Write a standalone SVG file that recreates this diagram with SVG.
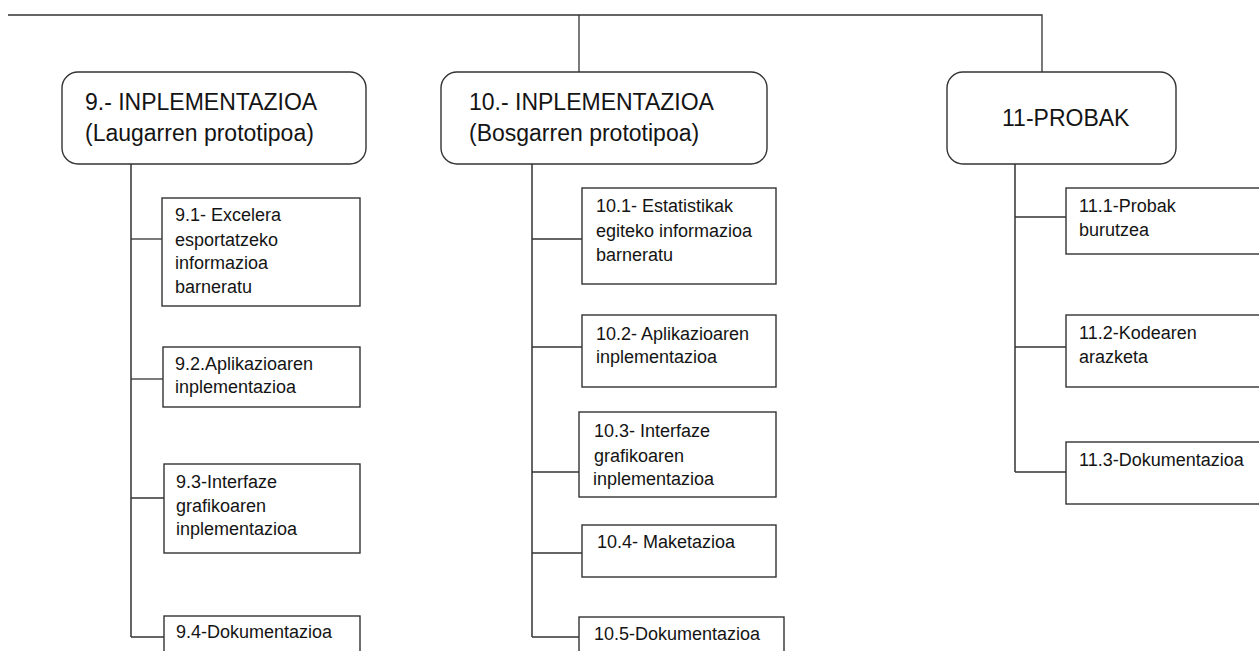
<svg xmlns="http://www.w3.org/2000/svg" width="1259" height="651" viewBox="0 0 1259 651">
  <style>
    .phase { fill: #fff; stroke: #333; stroke-width: 1.4; }
    .task { fill: #fff; stroke: #333; stroke-width: 1.4; }
    .h { font-family: "Liberation Sans", Arial, sans-serif; font-size: 23px; fill: #141414; }
    .t { font-family: "Liberation Sans", Arial, sans-serif; font-size: 18px; fill: #141414; }
    .wire { fill: none; stroke: #333; stroke-width: 1.3; }
    .trunk { fill: none; stroke: #555; stroke-width: 1.8; }
  </style>
  <rect width="1259" height="651" fill="#fff"/>

  <!-- connectors -->
  <g id="connectors">
    <polyline class="wire" points="8,15 1042,15 1042,72"/>
    <line class="wire" x1="579" y1="15" x2="579" y2="72"/>
    <!-- phase 9 -->
    <line class="trunk" x1="131" y1="164" x2="131" y2="637"/>
    <line class="wire" x1="131" y1="239" x2="162" y2="239"/>
    <line class="wire" x1="131" y1="379" x2="163" y2="379"/>
    <line class="wire" x1="131" y1="498" x2="164" y2="498"/>
    <line class="wire" x1="131" y1="637" x2="164" y2="637"/>
    <!-- phase 10 -->
    <line class="trunk" x1="532" y1="164" x2="532" y2="637"/>
    <line class="wire" x1="532" y1="239" x2="582" y2="239"/>
    <line class="wire" x1="532" y1="347" x2="582" y2="347"/>
    <line class="wire" x1="532" y1="472" x2="582" y2="472"/>
    <line class="wire" x1="532" y1="553" x2="582" y2="553"/>
    <line class="wire" x1="532" y1="637" x2="579" y2="637"/>
    <!-- phase 11 -->
    <line class="trunk" x1="1015" y1="164" x2="1015" y2="472"/>
    <line class="wire" x1="1015" y1="217" x2="1066" y2="217"/>
    <line class="wire" x1="1015" y1="347" x2="1066" y2="347"/>
    <line class="wire" x1="1015" y1="472" x2="1066" y2="472"/>
  </g>

  <!-- phase headers -->
  <g id="phase9">
    <rect class="phase" x="62" y="72" width="304" height="92" rx="16"/>
    <text class="h" x="85" y="110">9.- INPLEMENTAZIOA</text>
    <text class="h" x="85" y="141">(Laugarren prototipoa)</text>
  </g>
  <g id="phase10">
    <rect class="phase" x="441" y="72" width="326" height="92" rx="16"/>
    <text class="h" x="469" y="110">10.- INPLEMENTAZIOA</text>
    <text class="h" x="469" y="141">(Bosgarren prototipoa)</text>
  </g>
  <g id="phase11">
    <rect class="phase" x="947" y="72" width="229" height="92" rx="16"/>
    <text class="h" x="1002" y="126">11-PROBAK</text>
  </g>

  <!-- tasks of phase 9 -->
  <g id="task9-1">
    <rect class="task" x="162" y="198" width="198" height="108"/>
    <text class="t" x="175" y="221">9.1- Excelera</text>
    <text class="t" x="175" y="246">esportatzeko</text>
    <text class="t" x="175" y="269">informazioa</text>
    <text class="t" x="175" y="293">barneratu</text>
  </g>
  <g id="task9-2">
    <rect class="task" x="163" y="347" width="197" height="60"/>
    <text class="t" x="175" y="370">9.2.Aplikazioaren</text>
    <text class="t" x="175" y="393">inplementazioa</text>
  </g>
  <g id="task9-3">
    <rect class="task" x="164" y="464" width="196" height="89"/>
    <text class="t" x="176" y="488">9.3-Interfaze</text>
    <text class="t" x="176" y="512">grafikoaren</text>
    <text class="t" x="176" y="535">inplementazioa</text>
  </g>
  <g id="task9-4">
    <rect class="task" x="164" y="616" width="196" height="60"/>
    <text class="t" x="176" y="638">9.4-Dokumentazioa</text>
  </g>

  <!-- tasks of phase 10 -->
  <g id="task10-1">
    <rect class="task" x="582" y="188" width="194" height="96"/>
    <text class="t" x="596" y="212">10.1- Estatistikak</text>
    <text class="t" x="596" y="237">egiteko informazioa</text>
    <text class="t" x="596" y="261">barneratu</text>
  </g>
  <g id="task10-2">
    <rect class="task" x="582" y="315" width="194" height="72"/>
    <text class="t" x="596" y="340">10.2- Aplikazioaren</text>
    <text class="t" x="596" y="363">inplementazioa</text>
  </g>
  <g id="task10-3">
    <rect class="task" x="579" y="412" width="197" height="85"/>
    <text class="t" x="594" y="437">10.3- Interfaze</text>
    <text class="t" x="594" y="462">grafikoaren</text>
    <text class="t" x="593" y="485">inplementazioa</text>
  </g>
  <g id="task10-4">
    <rect class="task" x="582" y="525" width="194" height="52"/>
    <text class="t" x="597" y="548">10.4- Maketazioa</text>
  </g>
  <g id="task10-5">
    <rect class="task" x="579" y="617" width="205" height="60"/>
    <text class="t" x="594" y="640">10.5-Dokumentazioa</text>
  </g>

  <!-- tasks of phase 11 -->
  <g id="task11-1">
    <rect class="task" x="1066" y="188" width="210" height="66"/>
    <text class="t" x="1079" y="212">11.1-Probak</text>
    <text class="t" x="1079" y="236">burutzea</text>
  </g>
  <g id="task11-2">
    <rect class="task" x="1066" y="315" width="210" height="72"/>
    <text class="t" x="1079" y="339">11.2-Kodearen</text>
    <text class="t" x="1079" y="363">arazketa</text>
  </g>
  <g id="task11-3">
    <rect class="task" x="1066" y="442" width="210" height="62"/>
    <text class="t" x="1079" y="466">11.3-Dokumentazioa</text>
  </g>
</svg>
